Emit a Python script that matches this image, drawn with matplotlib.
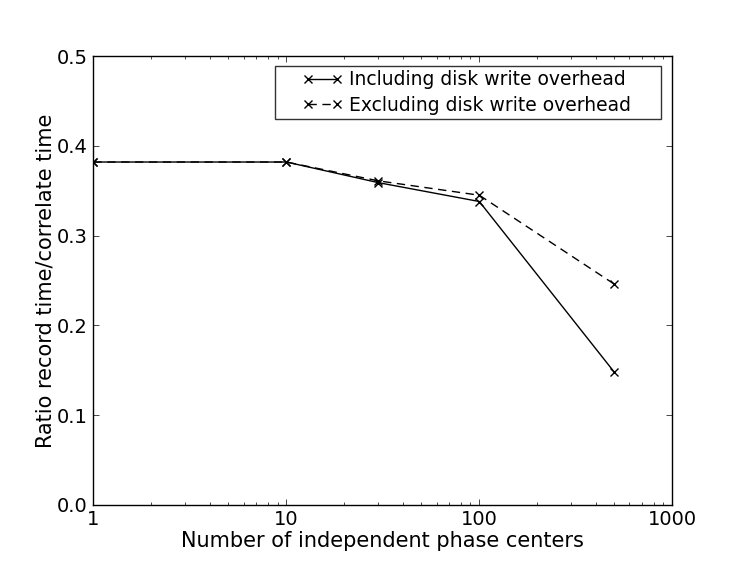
import matplotlib
matplotlib.use("Agg")
import matplotlib.pyplot as plt
import numpy as np
from matplotlib.legend_handler import HandlerLine2D
from matplotlib.lines import Line2D

phase_centers = [1, 10, 30, 100, 500]
including = [0.382, 0.382, 0.359, 0.338, 0.148]
excluding = [0.382, 0.382, 0.361, 0.345, 0.246]
x_ticks = [1, 10, 100, 1000]
x_ticklabels = ["1", "10", "100", "1000"]
y_ticks = [0.0, 0.1, 0.2, 0.3, 0.4, 0.5]

plt.rcParams['font.family'] = ['DejaVu Sans']
plt.rcParams['font.size'] = 12

fig = plt.figure(figsize=(7.47, 5.61), dpi=100)
ax = fig.add_axes([0.125, 0.1, 0.775, 0.8])

ax.plot(phase_centers, including, 'k-x', lw=1, ms=6, mew=1,
        label="Including disk write overhead")
ax.plot(phase_centers, excluding, 'k--x', lw=1, ms=6, mew=1, dashes=(6, 4),
        label="Excluding disk write overhead")

ax.set_xscale('log')
ax.set_xlim(1, 1000)
ax.set_ylim(0, 0.5)
ax.set_xticks(x_ticks)
ax.set_xticklabels(x_ticklabels)
ax.set_yticks(y_ticks)
ax.set_yticklabels([f"{v:.1f}" for v in y_ticks])

ax.tick_params(which='both', direction='in', top=True, right=True, labelsize=14)
ax.tick_params(which='major', length=4, width=0.5, pad=4)
ax.tick_params(which='minor', length=2, width=0.5)
for s in ax.spines.values():
    s.set_linewidth(1.0)

ax.set_xlabel("Number of independent phase centers", fontsize=15, labelpad=1)
ax.set_ylabel("Ratio record time/correlate time", fontsize=15, labelpad=1)


class RightHandler(HandlerLine2D):
    """Places the two legend markers near the right end of the handle box."""
    def get_xdata(self, legend, xdescent, ydescent, width, height, fontsize):
        span = 21.0  # points between the two markers
        right = -xdescent + width - 3.0
        x = np.array([right - span, right])
        return x, x


leg = ax.legend(loc='upper left', bbox_to_anchor=(0.314, 0.979, 0.667, 0.0),
                mode='expand', numpoints=2, fontsize=13.5, fancybox=False,
                frameon=True, handlelength=3.28, borderpad=0.25,
                labelspacing=0.35, handletextpad=0.4, borderaxespad=0.0,
                handler_map={Line2D: RightHandler()})
leg.get_frame().set_edgecolor('black')
leg.get_frame().set_linewidth(1.0)

fig.savefig("out.png", dpi=100)
